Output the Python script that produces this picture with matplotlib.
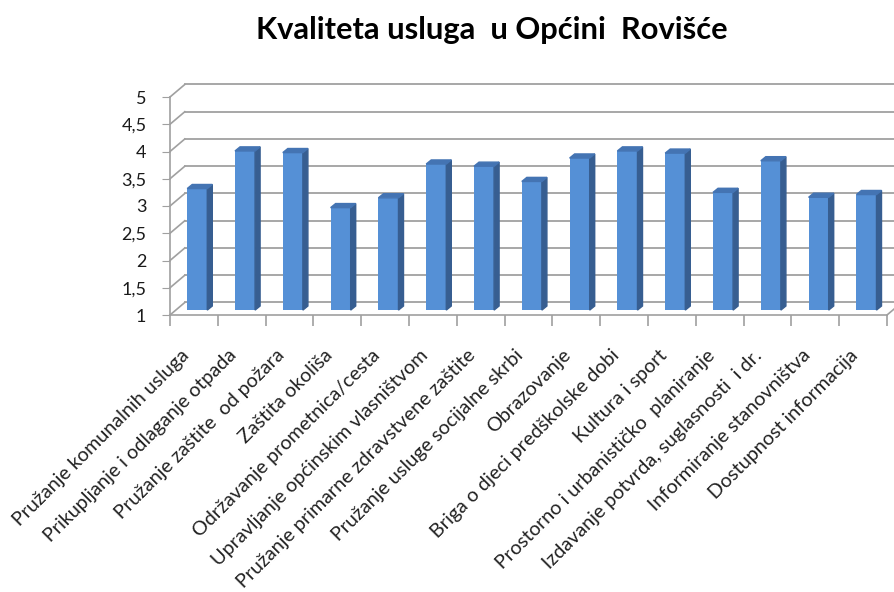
import numpy as np
import matplotlib
matplotlib.use("Agg")
import matplotlib.pyplot as plt
import matplotlib.transforms as mtrans

plt.rcParams['font.family'] = ['Lato', 'DejaVu Sans']

title = "Kvaliteta usluga  u Općini  Rovišće"
categories = [
    "Pružanje komunalnih usluga",
    "Prikupljanje i odlaganje otpada",
    "Pružanje zaštite  od požara",
    "Zaštita okoliša",
    "Održavanje prometnica/cesta",
    "Upravljanje općinskim vlasništvom",
    "Pružanje primarne zdravstvene zaštite",
    "Pružanje usluge socijalne skrbi",
    "Obrazovanje",
    "Briga o djeci predškolske dobi",
    "Kultura i sport",
    "Prostorno i urbanističko  planiranje",
    "Izdavanje potvrda, suglasnosti  i dr.",
    "Informiranje stanovništva",
    "Dostupnost informacija",
]
values = [3.23, 3.92, 3.89, 2.88, 3.06, 3.68, 3.64, 3.36, 3.79, 3.92,
          3.88, 3.16, 3.74, 3.07, 3.12]
yticks = [1, 1.5, 2, 2.5, 3, 3.5, 4, 4.5, 5]
ytick_labels = ["1", "1,5", "2", "2,5", "3", "3,5", "4", "4,5", "5"]

W, H = 895, 592
fig = plt.figure(figsize=(W / 100, H / 100), dpi=100)
ax = fig.add_axes([170 / W, 277 / H, 717 / W, 218 / H])
n = len(categories)
ax.set_xlim(0, n)
ax.set_ylim(1, 5)
for s in ax.spines.values():
    s.set_visible(False)

grid_c = '#a0a0a0'
# depth of the back wall (in data units)
dx, dy = 0.31, 0.23
for v in yticks:
    ax.plot([0, dx], [v, v + dy], color=grid_c, lw=1.2, clip_on=False, zorder=1)
    ax.plot([dx, n + 1], [v + dy, v + dy], color=grid_c, lw=1.3, clip_on=False, zorder=1)
ax.plot([n, n + dx], [1, 1 + dy], color=grid_c, lw=1.2, clip_on=False, zorder=1)
# front axes
ax.plot([0, 0], [1, 5], color=grid_c, lw=1.2, clip_on=False, zorder=2)
ax.plot([0, n], [1, 1], color=grid_c, lw=1.2, clip_on=False, zorder=2)

# bars with fake 3d faces
x = np.arange(n) + 0.57
bw = 0.42
base = 1.09
sx, sy = 0.105, 0.075
vals = np.array(values)
ax.bar(x, vals - 1, width=bw, bottom=base, color='#5590d6', zorder=3)
for xi, v in zip(x, vals):
    xr = xi + bw / 2
    xl = xi - bw / 2
    top = v + base - 1
    ax.fill([xr, xr, xr + sx, xr + sx], [base, top, top + sy, base + sy],
            color='#375e91', zorder=3)
    ax.fill([xl, xr, xr + sx, xl + sx], [top, top, top + sy, top + sy],
            color='#4474b3', zorder=3)

ax.set_yticks(yticks)
ax.set_yticklabels(ytick_labels, fontsize=13, color='#1a1a1a')
ax.tick_params(axis='y', length=6, color=grid_c, pad=11)

ax.set_xticks(np.arange(n) + 0.5)
ax.set_xticklabels(categories, rotation=45, ha='right', va='center',
                   rotation_mode='anchor', fontsize=14.2, color='#222222')
ax.tick_params(axis='x', length=0, pad=27)
shift = mtrans.ScaledTranslation(-8 / 100, 0, fig.dpi_scale_trans)
for lab in ax.get_xticklabels():
    lab.set_transform(lab.get_transform() + shift)
ax.set_xticks(np.arange(n + 1), minor=True)
ax.tick_params(axis='x', which='minor', length=8, color=grid_c, width=1.2)

fig.text(0.55, 1 - 30 / H, title, ha='center', va='center',
         fontsize=22.2, fontweight='bold')

fig.savefig("out.png", dpi=100)
